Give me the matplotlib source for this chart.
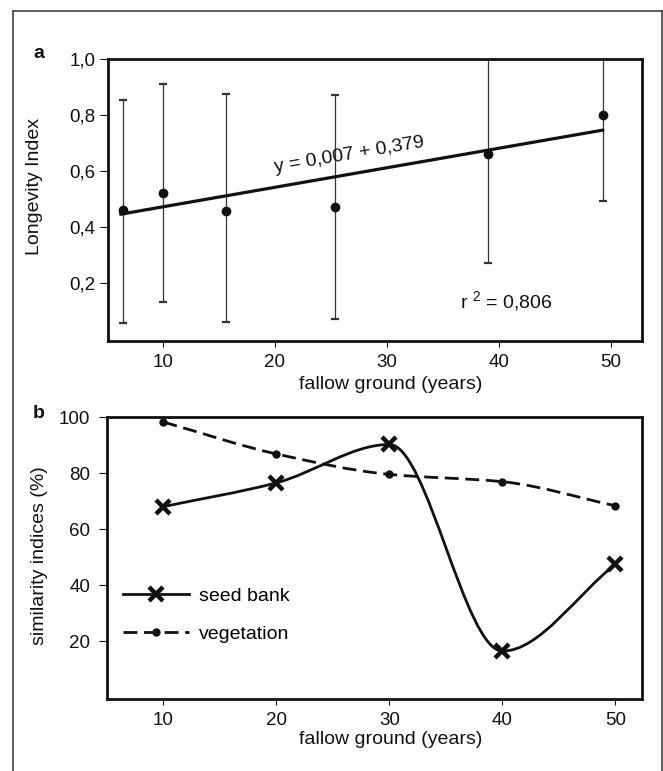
""" Longevity index and similarity indices along fallow ground age """
import numpy as np
import matplotlib.pyplot as plt
from matplotlib.path import Path
from matplotlib.patches import PathPatch
from matplotlib.lines import Line2D

plt.rcParams['font.family'] = ['Liberation Sans', 'DejaVu Sans']
plt.rcParams['mathtext.default'] = 'regular'

# # Data panel a (longevity index)
fallow_a = [6.4, 10.0, 15.6, 25.4, 39.0, 49.3]
longevity = [0.462, 0.521, 0.458, 0.474, 0.662, 0.800]
err_low = [0.059, 0.132, 0.062, 0.073, 0.271, 0.493]
err_high = [0.855, 0.912, 0.876, 0.872, 1.10, 1.10]
fit_x = [6.1, 49.4]
fit_y = [0.446, 0.748]
yticks_a = [0.2, 0.4, 0.6, 0.8, 1.0]
ylabels_a = ["0,2", "0,4", "0,6", "0,8", "1,0"]

# # Data panel b (similarity indices)
years_b = [10, 20, 30, 40, 50]
seed_bank = [68.0, 76.5, 90.2, 16.4, 47.4]
vegetation = [98.2, 86.8, 79.5, 76.9, 68.3]
yticks_b = [20, 40, 60, 80, 100]
xticks = [10, 20, 30, 40, 50]

W, H = 663, 771
INK = "#111111"


def smooth_path(x, y):
    # monotone cubic (Fritsch-Carlson) tangents -> bezier segments
    x = np.asarray(x, float)
    y = np.asarray(y, float)
    h = np.diff(x)
    d = np.diff(y) / h
    m = np.zeros_like(y)
    m[0], m[-1] = d[0], d[-1]
    for k in range(1, len(x) - 1):
        if d[k - 1] * d[k] > 0:
            w1 = 2 * h[k] + h[k - 1]
            w2 = h[k] + 2 * h[k - 1]
            m[k] = (w1 + w2) / (w1 / d[k - 1] + w2 / d[k])
    verts = [(x[0], y[0])]
    codes = [Path.MOVETO]
    for k in range(len(h)):
        verts += [(x[k] + h[k] / 3, y[k] + m[k] * h[k] / 3),
                  (x[k + 1] - h[k] / 3, y[k + 1] - m[k + 1] * h[k] / 3),
                  (x[k + 1], y[k + 1])]
        codes += [Path.CURVE4] * 3
    return Path(verts, codes)


def style_axes(ax):
    for sp in ax.spines.values():
        sp.set_linewidth(2.0)
        sp.set_color(INK)
    ax.tick_params(axis='both', direction='out', width=0.8, color=INK,
                   labelsize=13.5, labelcolor=INK)
    ax.tick_params(axis='x', length=4.5, pad=5)
    ax.tick_params(axis='y', length=6, pad=3)


fig = plt.figure(figsize=(W / 100, H / 100), dpi=100)

# outer frame
fx0, fy1, fx1 = 13.3 / W, 1 - 11 / H, 661.7 / W
for xs, ys in [([fx0, fx0], [0, fy1]), ([fx0, fx1], [fy1, fy1]), ([fx1, fx1], [fy1, 0])]:
    fig.add_artist(Line2D(xs, ys, transform=fig.transFigure, color="#333333", lw=1.1))

# # Panel a
ax1 = fig.add_axes([108 / W, 1 - 341 / H, 534 / W, 281.7 / H])
yerr = [np.array(longevity) - np.array(err_low), np.array(err_high) - np.array(longevity)]
ax1.errorbar(fallow_a, longevity, yerr=yerr, fmt='none', ecolor="#333333",
             elinewidth=0.9, capsize=3, capthick=1.6)
ax1.plot(fallow_a, longevity, 'o', color=INK, markersize=6, zorder=3)
ax1.plot(fit_x, fit_y, color=INK, lw=2.3, solid_capstyle='butt', zorder=2)

ax1.set_xlim(5.09, 52.77)
ax1.set_ylim(-0.006, 1.0)
ax1.set_xticks(xticks)
ax1.set_yticks(yticks_a)
ax1.set_yticklabels(ylabels_a)
style_axes(ax1)

ax1.text(26.6, 0.658, "y = 0,007 + 0,379", rotation=9.6, rotation_mode='anchor',
         ha='center', va='center', fontsize=14, color=INK)
ax1.text(36.5, 0.115, "r $^{2}$ = 0,806", ha='left', va='baseline', fontsize=14, color=INK)

ax1.set_xlabel("fallow ground (years)", fontsize=14, va='center', color=INK)
ax1.xaxis.set_label_coords(0.529, -0.153)
ax1.set_ylabel("Longevity Index", fontsize=14, va='center', color=INK)
ax1.yaxis.set_label_coords(-0.137, 0.55)

# # Panel b
ax2 = fig.add_axes([107 / W, 1 - 699 / H, 535 / W, 282 / H])
ax2.add_patch(PathPatch(smooth_path(years_b, seed_bank), fill=False, ec=INK, lw=2.0))
ax2.add_patch(PathPatch(smooth_path(years_b, vegetation), fill=False, ec=INK, lw=2.0,
                        linestyle=(0, (5, 2.4))))
ax2.plot(years_b, seed_bank, 'x', color=INK, markersize=10, markeredgewidth=3.2, zorder=3)
ax2.plot(years_b, vegetation, 'o', color=INK, markersize=5, zorder=3)

ax2.set_xlim(5.0, 52.35)
ax2.set_ylim(-0.7, 100)
ax2.set_xticks(xticks)
ax2.set_yticks(yticks_b)
style_axes(ax2)
ax2.tick_params(axis='y', pad=6)

handles = [
    Line2D([], [], color=INK, lw=2.0, marker='x', markersize=10, markeredgewidth=3.2),
    Line2D([], [], color=INK, lw=2.0, linestyle=(0, (5, 2.4)), marker='o', markersize=5),
]
ax2.legend(handles, ["seed bank", "vegetation"], loc='upper left',
           bbox_to_anchor=(0.030, 0.397), frameon=False, fontsize=14,
           handlelength=3.4, handletextpad=0.5, labelspacing=1.08,
           borderpad=0, borderaxespad=0, numpoints=1)

ax2.set_xlabel("fallow ground (years)", fontsize=14, va='center', color=INK)
ax2.xaxis.set_label_coords(0.53, -0.142)
ax2.set_ylabel("similarity indices (%)", fontsize=14, va='center', color=INK)
ax2.yaxis.set_label_coords(-0.127, 0.51)

# panel letters
fig.text(39 / W, 1 - 53 / H, "a", ha='center', va='center', fontsize=14,
         fontweight='bold', color=INK)
fig.text(39 / W, 1 - 413 / H, "b", ha='center', va='center', fontsize=14,
         fontweight='bold', color=INK)

fig.savefig("out.png", dpi=100)
